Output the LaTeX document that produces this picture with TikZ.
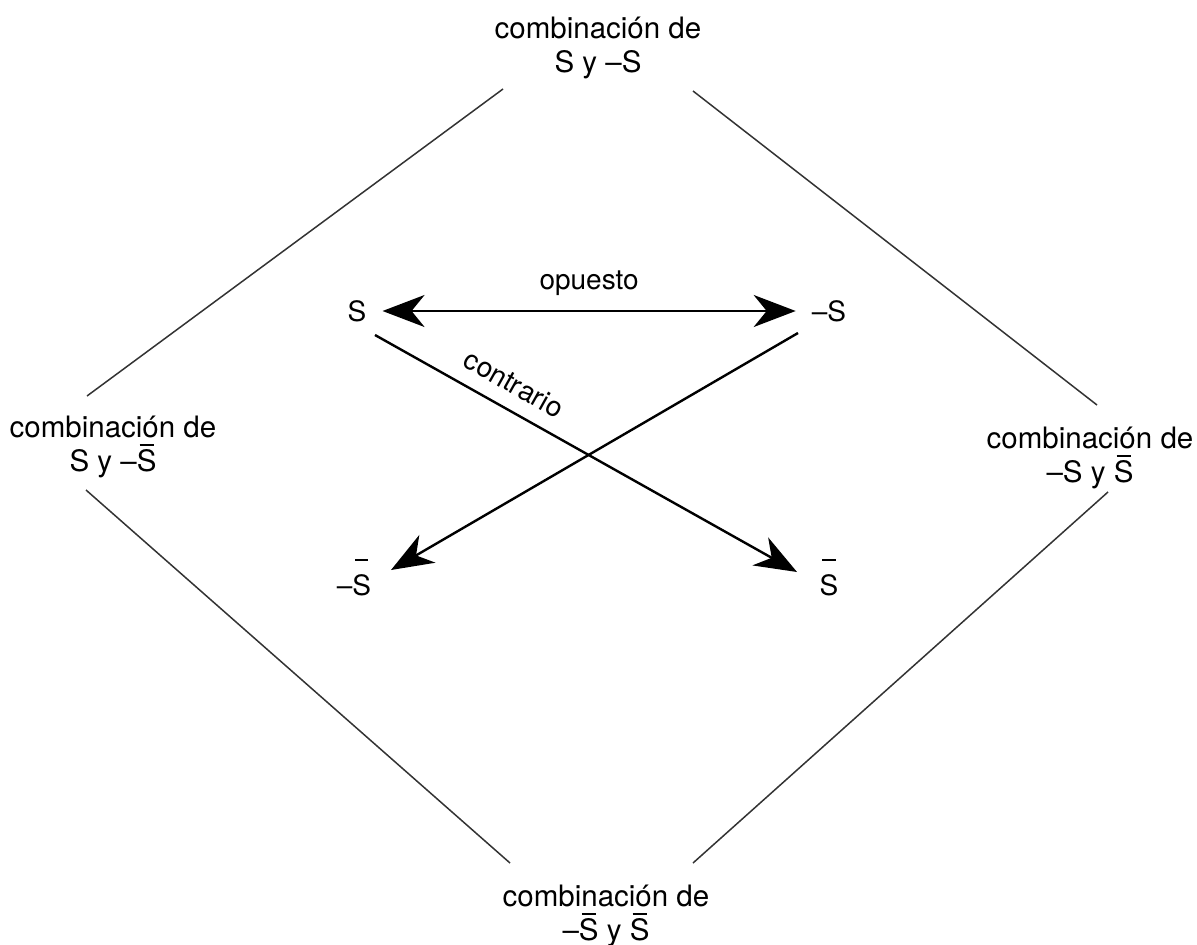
\documentclass[tikz,border=0pt]{standalone}
\usepackage{fontspec}
\setmainfont{TeX Gyre Heros}
\usetikzlibrary{arrows.meta,calc}
\newcommand\myoverS[1][0.86em]{\makebox[0pt][l]{\hspace{0.1em}\smash{\rule[#1]{0.47em}{0.07em}}}S}
\tikzset{
  biglabel/.style={align=center,inner sep=0pt,anchor=north,font=\fontsize{29.5}{34}\selectfont},
  term/.style={inner sep=16pt,text height=20pt,text depth=0pt,font=\fontsize{28}{32}\selectfont},
  edge/.style={line width=1.5pt,draw=black!80},
  tipS/.tip={Stealth[length=42pt,width=32pt,inset=13pt]},
  arr/.style={line width=2.4pt,-tipS},
  darr/.style={line width=2.4pt,tipS-tipS},
  lbl/.style={font=\fontsize{28}{32}\selectfont,inner sep=0pt}
}
\begin{document}
\begin{tikzpicture}[x=1pt,y=-1pt]
\path[use as bounding box] (0,0) rectangle (1197,945);
% diamond labels
\node[biglabel] (top) at (598,17) {combinación de\\S y –S};
\node[biglabel] (left) at (113,416) {combinación de\\S y –\myoverS};
\node[biglabel] (right) at (1090,427) {combinación de\\–S y \myoverS};
\node[biglabel] (bottom) at (606,885) {combinación de\\–\myoverS{} y \myoverS};
% diamond edges
\coordinate (tl1) at (503,89);
\coordinate (tl2) at (87,396);
\coordinate (tr1) at (693,91);
\coordinate (tr2) at (1097,405);
\coordinate (bl1) at (86,490);
\coordinate (bl2) at (510,863);
\coordinate (br1) at (1108,492);
\coordinate (br2) at (693,863);
\draw[edge] (tl1) -- (tl2);
\draw[edge] (tr1) -- (tr2);
\draw[edge] (bl1) -- (bl2);
\draw[edge] (br1) -- (br2);
% center terms
\node[term] (S) at (357,311) {S};
\node[term] (mS) at (829,311) {–S};
\node[term] (mSb) at (354,585) {–\myoverS[1.2em]};
\node[term] (Sb) at (829,585) {\myoverS[1.2em]};
% arrows
\draw[darr] (S) -- node[lbl,above=14pt] {opuesto} (mS);
\draw[arr] ($(S)+(18,24)$) -- node[lbl,sloped,above=14pt,pos=0.30] {contrario} ($(Sb)+(-32,-13)$);
\draw[arr] ($(mS)+(-31,22)$) -- ($(mSb)+(37,-15)$);
\end{tikzpicture}
\end{document}
